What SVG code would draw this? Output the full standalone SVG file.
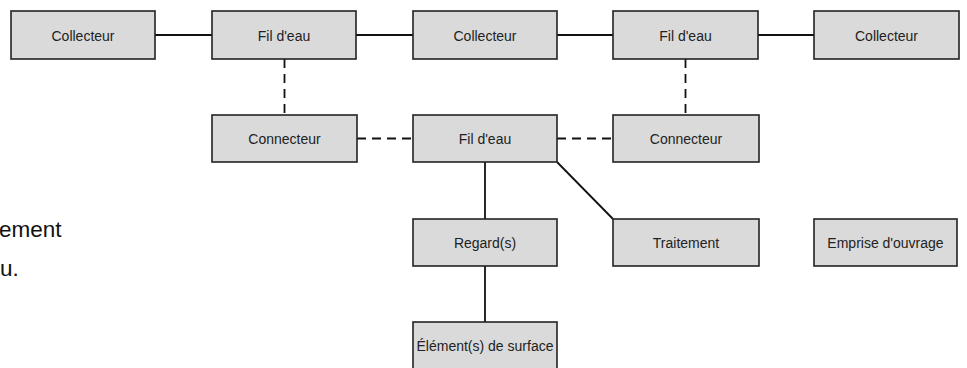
<svg xmlns="http://www.w3.org/2000/svg" width="967" height="368" viewBox="0 0 967 368">
<style>
.box rect{fill:#dadada;stroke:#222;stroke-width:1.6}
.box text{font-family:"Liberation Sans",Arial,sans-serif;font-size:14px;fill:#222;text-anchor:middle}
.solid{stroke:#111;stroke-width:1.8;fill:none}
.dash{stroke:#111;stroke-width:1.8;fill:none;stroke-dasharray:9,6}
.side{font-family:"Liberation Sans",Arial,sans-serif;font-size:22.5px;fill:#111}
</style>
<rect width="967" height="368" fill="#fff"/>
<g id="connectors">
<line class="solid" x1="155" y1="35" x2="212" y2="35"/>
<line class="solid" x1="356" y1="35" x2="413" y2="35"/>
<line class="solid" x1="557" y1="35" x2="613" y2="35"/>
<line class="solid" x1="758" y1="35" x2="814" y2="35"/>
<line class="dash" x1="284.5" y1="59" x2="284.5" y2="115"/>
<line class="dash" x1="685.5" y1="59" x2="685.5" y2="115"/>
<line class="dash" x1="357" y1="138.5" x2="413" y2="138.5"/>
<line class="dash" x1="557" y1="138.5" x2="613" y2="138.5"/>
<line class="solid" x1="485" y1="162" x2="485" y2="219"/>
<line class="solid" x1="485" y1="266" x2="485" y2="322"/>
<line class="solid" x1="557" y1="162" x2="613" y2="219"/>
</g>
<g id="collecteur1" class="box"><rect x="11" y="11" width="144" height="48"/><text x="83" y="40.5">Collecteur</text></g>
<g id="fildeau1" class="box"><rect x="212" y="11" width="144" height="48"/><text x="284" y="40.5">Fil d'eau</text></g>
<g id="collecteur2" class="box"><rect x="413" y="11" width="144" height="48"/><text x="485" y="40.5">Collecteur</text></g>
<g id="fildeau2" class="box"><rect x="613" y="11" width="145" height="48"/><text x="685.5" y="40.5">Fil d'eau</text></g>
<g id="collecteur3" class="box"><rect x="814" y="11" width="145" height="48"/><text x="886.5" y="40.5">Collecteur</text></g>
<g id="connecteur1" class="box"><rect x="212" y="115" width="145" height="47"/><text x="284.5" y="144">Connecteur</text></g>
<g id="fildeau3" class="box"><rect x="413" y="115" width="144" height="47"/><text x="485" y="144">Fil d'eau</text></g>
<g id="connecteur2" class="box"><rect x="613" y="115" width="146" height="47"/><text x="686" y="144">Connecteur</text></g>
<g id="regards" class="box"><rect x="413" y="219" width="144" height="47"/><text x="485" y="248">Regard(s)</text></g>
<g id="traitement" class="box"><rect x="613" y="219" width="146" height="47"/><text x="686" y="248">Traitement</text></g>
<g id="emprise" class="box"><rect x="814" y="219" width="143" height="47"/><text x="885.5" y="248">Emprise d'ouvrage</text></g>
<g id="elements" class="box"><rect x="413" y="322" width="144" height="48"/><text x="485" y="351">Élément(s) de surface</text></g>
<g id="sidetext">
<text class="side" x="-1" y="237">ement</text>
<text class="side" x="0" y="276">u.</text>
</g>
</svg>
